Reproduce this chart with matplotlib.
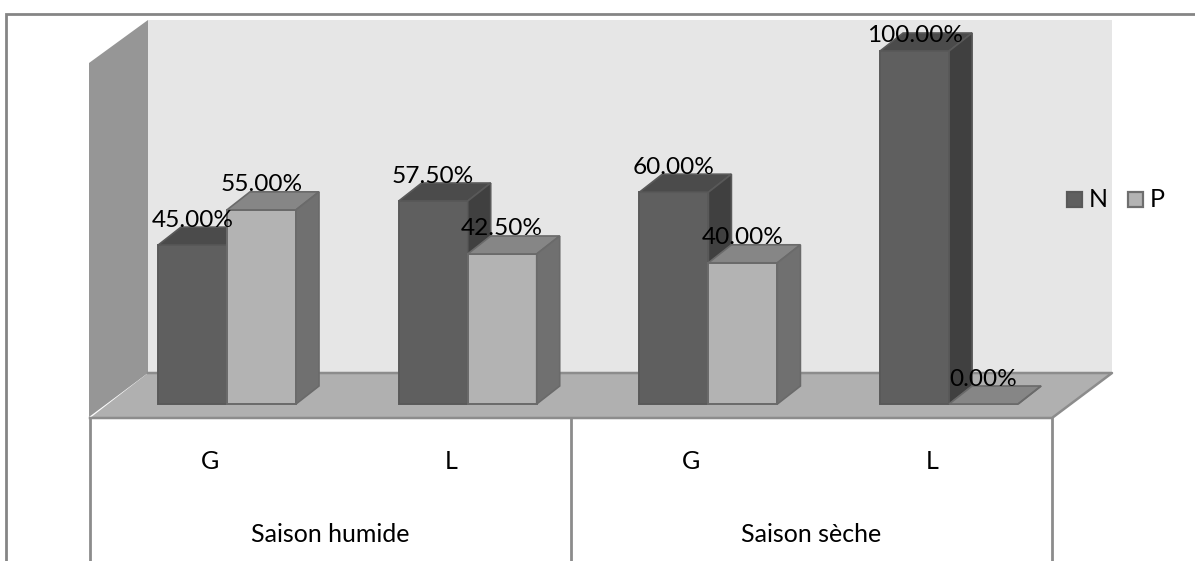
#3d style stacked-look bars, drawn by hand since mplot3d can't do the office look
import matplotlib
matplotlib.use('Agg')
import matplotlib.pyplot as plt
from matplotlib.patches import Polygon, Rectangle

plt.rcParams['font.family'] = ['Lato', 'DejaVu Sans']

categories = ['G', 'L', 'G', 'L']
seasons = ['Saison humide', 'Saison sèche']
series_n = [45.0, 57.5, 60.0, 100.0]
series_p = [55.0, 42.5, 40.0, 0.0]
legend_names = ['N', 'P']

W, H = 1195, 561
fig = plt.figure(figsize=(W / 100, H / 100), dpi=100, facecolor='white')

# pixel axes for the frame, walls and category table
bg = fig.add_axes([0, 0, 1, 1])
bg.set_xlim(0, W)
bg.set_ylim(H, 0)
bg.axis('off')

line_col = '#8c8c8c'
bg.plot([6.5, 6.5, W], [H, 13.5, 13.5], color='#858585', lw=2, solid_joinstyle='miter')
bg.add_patch(Polygon([(148, 20), (1112, 20), (1112, 373), (148, 373)], fc='#e6e6e6', ec='none'))
bg.add_patch(Polygon([(89, 63), (148, 20), (148, 373), (89, 417)], fc='#969696', ec='none'))
bg.add_patch(Polygon([(90, 418), (148, 373), (1112, 373), (1052, 418)], fc='#b0b0b0', ec='none'))
bg.plot([148, 1112, 1052, 90], [373, 373, 418, 418], color=line_col, lw=1.8)
for x in [90, 571, 1052]:
    bg.plot([x, x], [418, H], color=line_col, lw=2)

for i, c in enumerate(categories):
    bg.text(210 + 240.7 * i, 461, c, fontsize=18, ha='center', va='center', color='black')
for i, s in enumerate(seasons):
    bg.text(330 + 481 * i, 535, s, fontsize=18, ha='center', va='center', color='black')

# legend
for i, name in enumerate(legend_names):
    x0 = 1067 + 61 * i
    fc = ['#5f5f5f', '#b3b3b3'][i]
    bg.add_patch(Rectangle((x0, 192), 15, 15, fc=fc, ec='#595959' if i == 0 else '#6e6e6e', lw=1.6))
    bg.text(x0 + 22, 199.5, name, fontsize=18, ha='left', va='center', color='black')

# data axes: x = category index, y = percent
px_per_pct = 3.53
px_per_cat = 240.7
base_px = 404
first_px = 227
ax = fig.add_axes([0, 0, 1, 1], facecolor='none')
ax.set_xlim(-first_px / px_per_cat, (W - first_px) / px_per_cat)
ax.set_ylim(-(H - base_px) / px_per_pct, base_px / px_per_pct)
ax.axis('off')

bar_w = 69 / px_per_cat
dx = 23 / px_per_cat
dy = 18 / px_per_pct


def draw_bar(x0, v, front, top, side, edge, zorder):
    ax.add_patch(Rectangle((x0, 0), bar_w, v, fc=front, ec=edge, lw=1.4, zorder=zorder))
    ax.add_patch(Polygon([(x0, v), (x0 + dx, v + dy), (x0 + bar_w + dx, v + dy), (x0 + bar_w, v)],
                         fc=top, ec=edge, lw=1.2, zorder=zorder))
    ax.add_patch(Polygon([(x0 + bar_w, 0), (x0 + bar_w + dx, dy), (x0 + bar_w + dx, v + dy), (x0 + bar_w, v)],
                         fc=side, ec=edge, lw=1.2, zorder=zorder))


for i in range(len(categories)):
    draw_bar(i - bar_w, series_n[i], '#5f5f5f', '#4b4b4b', '#404040', '#595959', 3 + i * 2)
    draw_bar(i, series_p[i], '#b3b3b3', '#868686', '#707070', '#6a6a6a', 4 + i * 2)

# labels sit above the bars, the 100% one gets pushed down by the top of the plot
for i in range(len(categories)):
    for off, vals in [(-bar_w / 2, series_n), (bar_w / 2, series_p)]:
        y = min(vals[i] + 25 / px_per_pct, 104.5)
        ax.text(i + off, y, '%.2f%%' % vals[i], fontsize=17.6, ha='center', va='center',
                color='black', zorder=20)

fig.savefig('out.png', dpi=100)
